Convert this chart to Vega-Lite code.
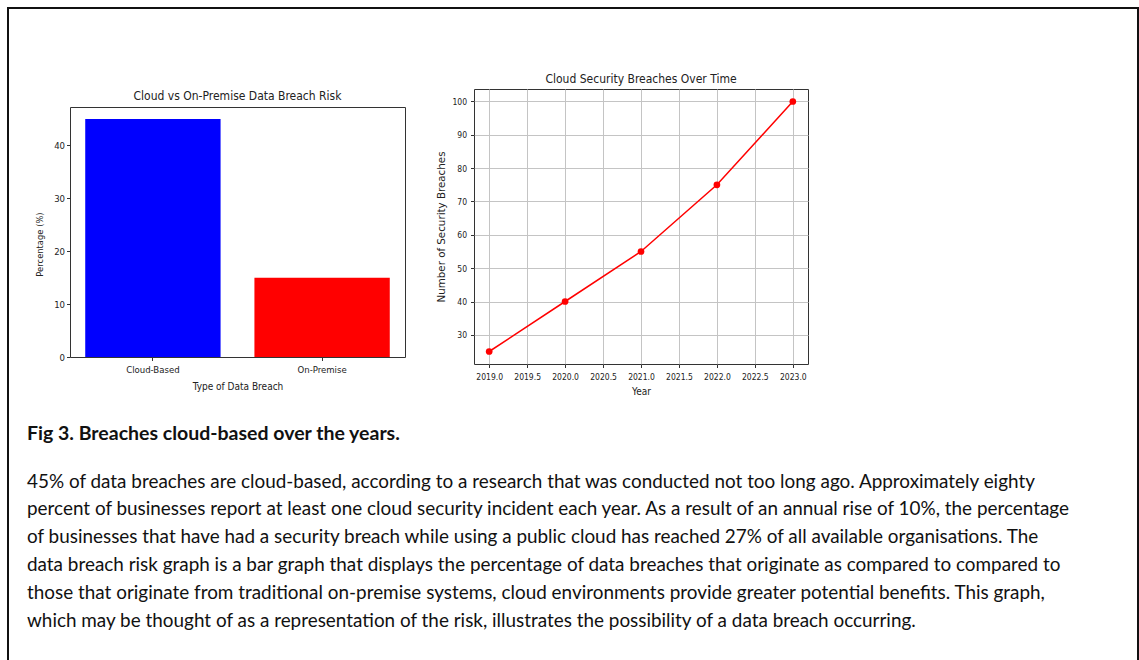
{
  "$schema": "https://vega.github.io/schema/vega-lite/v6.json",
  "background": "white",
  "padding": {"left": 7, "top": 7, "right": 0, "bottom": 0},
  "config": {
    "view": {"stroke": null},
    "font": "DejaVu Sans Condensed",
    "title": {"font": "DejaVu Sans Condensed", "fontSize": 12, "fontWeight": "normal", "color": "#222"},
    "axis": {
      "labelFont": "DejaVu Sans Condensed",
      "labelFontSize": 9.5,
      "labelColor": "#222",
      "titleFont": "DejaVu Sans Condensed",
      "titleFontSize": 10,
      "titleFontWeight": "normal",
      "titleColor": "#222",
      "tickColor": "#333",
      "tickSize": 3.5,
      "labelPadding": 2,
      "domain": false,
      "grid": false
    }
  },
  "bounds": "flush",
  "spacing": 0,
  "vconcat": [
    {
      "width": 1132, "height": 2,
      "view": {"fill": "#111", "stroke": null},
      "data": {"values": []},
      "mark": "point"
    },
    {
      "bounds": "flush",
      "spacing": 0,
      "hconcat": [
        {
          "width": 2, "height": 651,
          "view": {"fill": "#111", "stroke": null},
          "data": {"values": []},
          "mark": "point"
        },
        {"width": 61, "height": 1, "data": {"values": []}, "mark": "point"},
        {
          "bounds": "flush",
          "spacing": 0,
          "vconcat": [
            {"width": 335, "height": 98, "data": {"values": []}, "mark": "point"},
            {
              "width": 335, "height": 250,
              "view": {"stroke": "#333", "strokeWidth": 1},
              "title": {"text": "Cloud vs On-Premise Data Breach Risk", "offset": 4},
              "data": {"values": [
                {"type": "Cloud-Based", "pct": 45},
                {"type": "On-Premise", "pct": 15}
              ]},
              "mark": {"type": "bar"},
              "encoding": {
                "x": {
                  "field": "type", "type": "nominal", "sort": null,
                  "scale": {"paddingInner": 0.2, "paddingOuter": 0.09},
                  "axis": {"title": "Type of Data Breach", "labelAngle": 0, "labelPadding": 4, "titlePadding": 7}
                },
                "y": {
                  "field": "pct", "type": "quantitative",
                  "scale": {"domain": [0, 47.25], "nice": false},
                  "axis": {
                    "title": "Percentage (%)", "values": [0, 10, 20, 30, 40],
                    "titleFont": "DejaVu Sans", "titleFontSize": 8.4, "titleY": 137, "titlePadding": 9
                  }
                },
                "color": {
                  "field": "type", "type": "nominal",
                  "scale": {"domain": ["Cloud-Based", "On-Premise"], "range": ["#0000ff", "#ff0000"]},
                  "legend": null
                }
              }
            },
            {"width": 335, "height": 293, "data": {"values": []}, "mark": "point"},
            {
              "width": 1060, "height": 10,
              "data": {"values": []},
              "mark": "point",
              "title": {
                "text": "Fig 3. Breaches cloud-based over the years.",
                "subtitle": [
                  "45% of data breaches are cloud-based, according to a research that was conducted not too long ago. Approximately eighty",
                  "percent of businesses report at least one cloud security incident each year. As a result of an annual rise of 10%, the percentage",
                  "of businesses that have had a security breach while using a public cloud has reached 27% of all available organisations. The",
                  "data breach risk graph is a bar graph that displays the percentage of data breaches that originate as compared to compared to",
                  "those that originate from traditional on-premise systems, cloud environments provide greater potential benefits. This graph,",
                  "which may be thought of as a representation of the risk, illustrates the possibility of a data breach occurring."
                ],
                "anchor": "start",
                "frame": "group",
                "dx": -43,
                "offset": 18,
                "font": "Lato",
                "fontSize": 19.5,
                "fontWeight": "bold",
                "color": "#111",
                "subtitleFont": "Lato",
                "subtitleFontSize": 18.9,
                "subtitleFontWeight": "normal",
                "subtitleColor": "#111",
                "subtitleLineHeight": 27.9,
                "subtitlePadding": 28
              }
            }
          ]
        },
        {"width": 404, "height": 1, "data": {"values": []}, "mark": "point"},
        {
          "bounds": "flush",
          "spacing": 0,
          "vconcat": [
            {"width": 334, "height": 80, "data": {"values": []}, "mark": "point"},
            {
              "width": 334, "height": 275,
              "view": {"stroke": "#333", "strokeWidth": 1},
              "title": {"text": "Cloud Security Breaches Over Time", "offset": 3},
              "data": {"values": [
                {"year": 2019, "breaches": 25},
                {"year": 2020, "breaches": 40},
                {"year": 2021, "breaches": 55},
                {"year": 2022, "breaches": 75},
                {"year": 2023, "breaches": 100}
              ]},
              "encoding": {
                "x": {
                  "field": "year", "type": "quantitative",
                  "scale": {"domain": [2018.8, 2023.2], "nice": false, "zero": false},
                  "axis": {
                    "title": "Year", "format": ".1f", "labelFontSize": 8.5,
                    "values": [2019, 2019.5, 2020, 2020.5, 2021, 2021.5, 2022, 2022.5, 2023],
                    "grid": true, "gridColor": "#c4c4c4", "gridWidth": 1,
                    "labelPadding": 5, "titlePadding": 5
                  }
                },
                "y": {
                  "field": "breaches", "type": "quantitative",
                  "scale": {"domain": [21.25, 103.75], "nice": false, "zero": false},
                  "axis": {
                    "title": "Number of Security Breaches", "labelFontSize": 8.5,
                    "titleFont": "DejaVu Sans", "titleFontSize": 10.3,
                    "values": [30, 40, 50, 60, 70, 80, 90, 100],
                    "grid": true, "gridColor": "#c4c4c4", "gridWidth": 1,
                    "labelPadding": 4, "titlePadding": 5
                  }
                }
              },
              "layer": [
                {"mark": {"type": "line", "color": "#ff0000", "strokeWidth": 1.5}},
                {"mark": {"type": "point", "filled": true, "color": "#ff0000", "size": 45, "opacity": 1}}
              ]
            }
          ]
        },
        {"width": 663, "height": 1, "data": {"values": []}, "mark": "point"},
        {
          "width": 2, "height": 651,
          "view": {"fill": "#111", "stroke": null},
          "data": {"values": []},
          "mark": "point"
        }
      ]
    }
  ]
}
